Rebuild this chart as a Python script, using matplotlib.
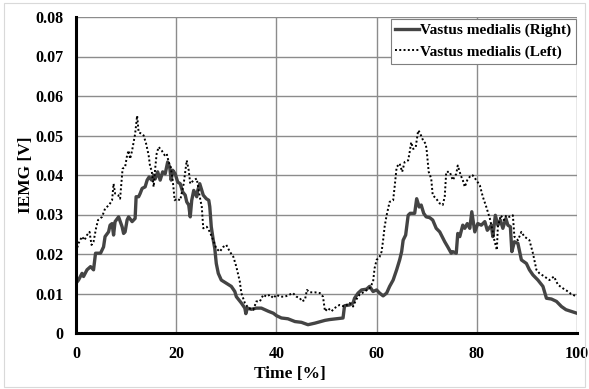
import matplotlib
matplotlib.use("Agg")
import matplotlib.pyplot as plt
from matplotlib.patches import Rectangle

# ---- data ----
t_right = [0, 0.5, 1.2, 1.5, 2.2, 2.9, 3.5, 3.9, 4.9, 5.5, 5.8, 6.5, 6.8, 7.2, 7.5, 7.8, 8.5, 9.2, 9.5, 9.8,
           10.2, 10.5, 11.2, 11.8, 12.0, 12.5, 12.8, 13.2, 13.8, 14.2, 14.6, 15.1, 15.5, 15.8, 16.3, 16.8, 17.3, 17.8, 18.3, 18.7,
           19.0, 19.3, 19.8, 20.3, 20.8, 21.3, 21.8, 22.1, 22.5, 22.8, 23.1, 23.5, 24.1, 24.3, 24.7, 25.4, 26.0, 26.5, 26.7, 27.0,
           27.4, 27.7, 28.0, 28.4, 29.0, 30.0, 31.0, 31.7, 32.0, 33.0, 33.7, 33.9, 34.2, 35.0, 36.0, 37.0, 37.7, 38.4, 39.4, 40.0,
           41.0, 42.3, 43.7, 45.0, 46.3, 47.7, 49.7, 50.6, 53.3, 53.6, 54.6, 55.3, 55.6, 56.3, 57.0, 58.0, 58.6, 59.3, 60.0, 60.6,
           61.3, 62.0, 62.6, 63.3, 64.0, 64.6, 65.0, 65.3, 65.8, 66.3, 66.7, 67.6, 68.0, 68.5, 68.9, 69.4, 69.9, 70.6, 71.2, 71.9,
           72.6, 73.6, 74.2, 74.9, 75.2, 75.9, 76.2, 76.6, 77.2, 77.6, 78.1, 78.6, 79.0, 79.6, 80.2, 80.9, 81.6, 82.1, 82.9, 83.2,
           83.7, 84.2, 84.7, 85.2, 85.8, 86.2, 86.7, 87.0, 87.5, 88.2, 88.9, 89.9, 90.5, 91.2, 92.2, 93.2, 93.9, 94.9, 95.9, 96.9,
           97.8, 98.8, 100]
v_right = [0.0126, 0.0134, 0.0151, 0.0143, 0.016, 0.0168, 0.016, 0.0202, 0.0202, 0.0218, 0.0244, 0.0256, 0.0273, 0.0277, 0.0248, 0.0282, 0.0294, 0.0269, 0.0252, 0.0256,
           0.0286, 0.0294, 0.0282, 0.029, 0.0345, 0.0345, 0.0353, 0.0366, 0.037, 0.0387, 0.0395, 0.0387, 0.04, 0.039, 0.0408, 0.0387, 0.0408, 0.0403, 0.0433, 0.042,
           0.0387, 0.0412, 0.0403, 0.0382, 0.0378, 0.0357, 0.0349, 0.0332, 0.0324, 0.0294, 0.0336, 0.0361, 0.0345, 0.0361, 0.0378, 0.0349, 0.034, 0.0336, 0.032, 0.0269,
           0.0235, 0.0214, 0.0176, 0.0151, 0.0134, 0.0126, 0.0118, 0.0105, 0.0092, 0.0076, 0.0063, 0.0049, 0.0063, 0.006, 0.0063, 0.0063, 0.0059, 0.0055, 0.005, 0.0044,
           0.0038, 0.0036, 0.0029, 0.0027, 0.0021, 0.0025, 0.0032, 0.0034, 0.0038, 0.0069, 0.0071, 0.0076, 0.0088, 0.0101, 0.0109, 0.0111, 0.0118, 0.0105, 0.0109, 0.0101,
           0.0094, 0.0101, 0.0118, 0.0134, 0.016, 0.0185, 0.0206, 0.0235, 0.0248, 0.0298, 0.0303, 0.0303, 0.034, 0.0319, 0.0324, 0.0303, 0.0294, 0.0292, 0.0286, 0.0265,
           0.0256, 0.0231, 0.0218, 0.0202, 0.0206, 0.0202, 0.0252, 0.0244, 0.0273, 0.0265, 0.0277, 0.0265, 0.0307, 0.0256, 0.0277, 0.0273, 0.0282, 0.026, 0.0273, 0.0244,
           0.0298, 0.0273, 0.0286, 0.0265, 0.029, 0.0273, 0.0269, 0.0206, 0.0231, 0.0227, 0.0185, 0.0176, 0.016, 0.0147, 0.0134, 0.0118, 0.0088, 0.0086, 0.008, 0.0067,
           0.0059, 0.0055, 0.005]

t_left = [0, 0.5, 1.2, 1.7, 2.2, 2.7, 3.1, 3.5, 4.0, 4.4, 5.2, 5.8, 6.6, 7.2, 7.5, 7.8, 8.4, 8.8, 9.3, 9.8,
          10.2, 10.5, 10.8, 11.2, 11.5, 11.8, 12.2, 12.5, 13.2, 13.5, 14.0, 14.5, 14.8, 15.1, 15.5, 15.8, 16.1, 16.5, 17.1, 17.7,
          18.1, 18.5, 18.9, 19.3, 19.7, 20.1, 20.8, 21.5, 22.1, 22.5, 22.8, 23.5, 24.1, 24.7, 25.1, 25.4, 26.1, 26.7, 27.4, 28.0,
          28.7, 29.4, 30.0, 30.7, 31.4, 32.0, 32.7, 33.0, 33.7, 34.4, 35.4, 36.0, 36.7, 37.4, 38.0, 38.7, 39.4, 40.0, 40.7, 41.7,
          42.6, 43.3, 44.0, 44.7, 45.1, 45.7, 46.1, 46.6, 47.7, 48.7, 49.3, 49.7, 50.3, 51.0, 51.6, 52.6, 53.6, 54.6, 55.3, 55.9,
          56.6, 57.6, 58.6, 59.3, 59.6, 60.0, 60.6, 61.0, 61.3, 61.6, 62.0, 62.6, 63.3, 63.6, 64.0, 64.6, 65.1, 65.6, 66.3, 66.6,
          66.9, 67.3, 67.8, 68.3, 68.6, 69.3, 69.8, 70.0, 70.4, 70.9, 71.2, 71.9, 72.6, 73.2, 73.6, 73.9, 74.6, 75.2, 75.9, 76.2,
          76.8, 77.2, 77.6, 78.1, 78.8, 79.2, 79.9, 80.6, 81.2, 81.9, 82.6, 83.2, 83.5, 84.0, 84.2, 84.8, 85.4, 85.9, 86.5, 87.2,
          87.5, 88.2, 88.9, 89.5, 90.5, 91.2, 91.9, 92.5, 93.5, 94.5, 95.4, 96.2, 97.2, 98.2, 98.8, 100]
v_left = [0.0206, 0.0227, 0.0244, 0.0235, 0.0248, 0.0256, 0.0223, 0.0231, 0.0265, 0.0286, 0.0294, 0.0315, 0.0324, 0.0336, 0.0378, 0.0353, 0.0349, 0.034, 0.0416, 0.042,
          0.045, 0.0462, 0.0441, 0.0462, 0.0483, 0.0504, 0.055, 0.0508, 0.0504, 0.05, 0.0479, 0.045, 0.042, 0.0412, 0.037, 0.0416, 0.0454, 0.0471, 0.0462, 0.045,
          0.0454, 0.0433, 0.042, 0.0387, 0.0336, 0.034, 0.0336, 0.0378, 0.0437, 0.0412, 0.0378, 0.0387, 0.0391, 0.0345, 0.032, 0.0265, 0.0269, 0.0256, 0.0235, 0.0214,
          0.0206, 0.0218, 0.0223, 0.0206, 0.0193, 0.0168, 0.013, 0.0101, 0.0076, 0.0063, 0.0059, 0.008, 0.008, 0.0097, 0.0092, 0.0097, 0.0088, 0.0097, 0.0092, 0.0092,
          0.0097, 0.0101, 0.0092, 0.0088, 0.008, 0.0084, 0.0109, 0.0103, 0.0103, 0.0101, 0.0092, 0.0055, 0.0063, 0.0055, 0.0063, 0.0071, 0.0067, 0.0076, 0.0067, 0.0084,
          0.0097, 0.0105, 0.0113, 0.013, 0.0164, 0.0185, 0.0193, 0.0206, 0.0235, 0.0269, 0.0298, 0.0332, 0.0336, 0.037, 0.042, 0.0429, 0.0408, 0.0433, 0.0437, 0.0458,
          0.0483, 0.0466, 0.047, 0.0513, 0.0508, 0.0487, 0.0479, 0.0462, 0.0408, 0.0391, 0.0349, 0.034, 0.0328, 0.0324, 0.0345, 0.0408, 0.0408, 0.0387, 0.0403, 0.0424,
          0.0399, 0.0387, 0.037, 0.0387, 0.0399, 0.0399, 0.0387, 0.0374, 0.0345, 0.0319, 0.029, 0.0256, 0.0235, 0.021, 0.0269, 0.0298, 0.0286, 0.0298, 0.0294, 0.0298,
          0.0244, 0.0235, 0.0256, 0.0244, 0.0235, 0.0202, 0.016, 0.0151, 0.0143, 0.0134, 0.0143, 0.0122, 0.0113, 0.0105, 0.0099, 0.0092]

x_ticks = [0, 20, 40, 60, 80, 100]
y_ticks = [0, 0.01, 0.02, 0.03, 0.04, 0.05, 0.06, 0.07, 0.08]
y_tick_labels = ["0", "0.01", "0.02", "0.03", "0.04", "0.05", "0.06", "0.07", "0.08"]
label_right = "Vastus medialis (Right)"
label_left = "Vastus medialis (Left)"

plt.rcParams['font.family'] = ['Liberation Serif', 'DejaVu Serif']
plt.rcParams['font.weight'] = 'bold'

W, H = 589, 389
fig = plt.figure(figsize=(W / 100, H / 100), dpi=100)
ax = fig.add_axes([76 / W, 1 - 333 / H, (577 - 76) / W, (333 - 17) / H])

ax.plot(t_right, v_right, color='#444444', lw=2.4, label=label_right, zorder=3)
ax.plot(t_left, v_left, color='black', lw=1.4, linestyle=(0, (1, 1.2)), label=label_left, zorder=3)

ax.set_xlim(0, 100)
ax.set_ylim(0, 0.08)
ax.set_xticks(x_ticks)
ax.set_xticklabels([str(x) for x in x_ticks])
ax.set_yticks(y_ticks)
ax.set_yticklabels(y_tick_labels)
ax.tick_params(length=0, labelsize=11.5, pad=9)
for lab in ax.get_xticklabels() + ax.get_yticklabels():
    lab.set_fontweight('bold')

ax.grid(True, color='#8c8c8c', lw=1.0)
ax.set_axisbelow(True)
for s in ['top', 'right']:
    ax.spines[s].set_visible(False)
for s in ['left', 'bottom']:
    ax.spines[s].set_linewidth(2.2)
    ax.spines[s].set_color('black')
    ax.spines[s].set_zorder(4)

ax.set_xlabel("Time [%]", fontsize=12.5, fontweight='bold')
ax.xaxis.set_label_coords((290 - 76) / (577 - 76), -(374 - 333) / (333 - 17), transform=ax.transAxes)
ax.xaxis.label.set_va('center')
ax.set_ylabel("IEMG [V]", fontsize=12.5, fontweight='bold')
ax.yaxis.set_label_coords(-(76 - 26) / (577 - 76), 0.5)
ax.yaxis.label.set_va('center')

leg = ax.legend(loc='upper right', bbox_to_anchor=(576 / W, 1 - 19 / H), bbox_transform=fig.transFigure,
                fancybox=False, framealpha=1, edgecolor='#7f7f7f', fontsize=11,
                handlelength=1.55, handletextpad=0.1, borderpad=0.3, labelspacing=0.5, borderaxespad=0)
leg.get_frame().set_linewidth(0.8)
for txt in leg.get_texts():
    txt.set_fontweight('bold')

fig.patches.append(Rectangle((4 / W, 2 / H), (585 - 4) / W, (386 - 2) / H, transform=fig.transFigure,
                             fill=False, edgecolor='#d9d9d9', lw=0.8))

fig.savefig("out.png", dpi=100)
